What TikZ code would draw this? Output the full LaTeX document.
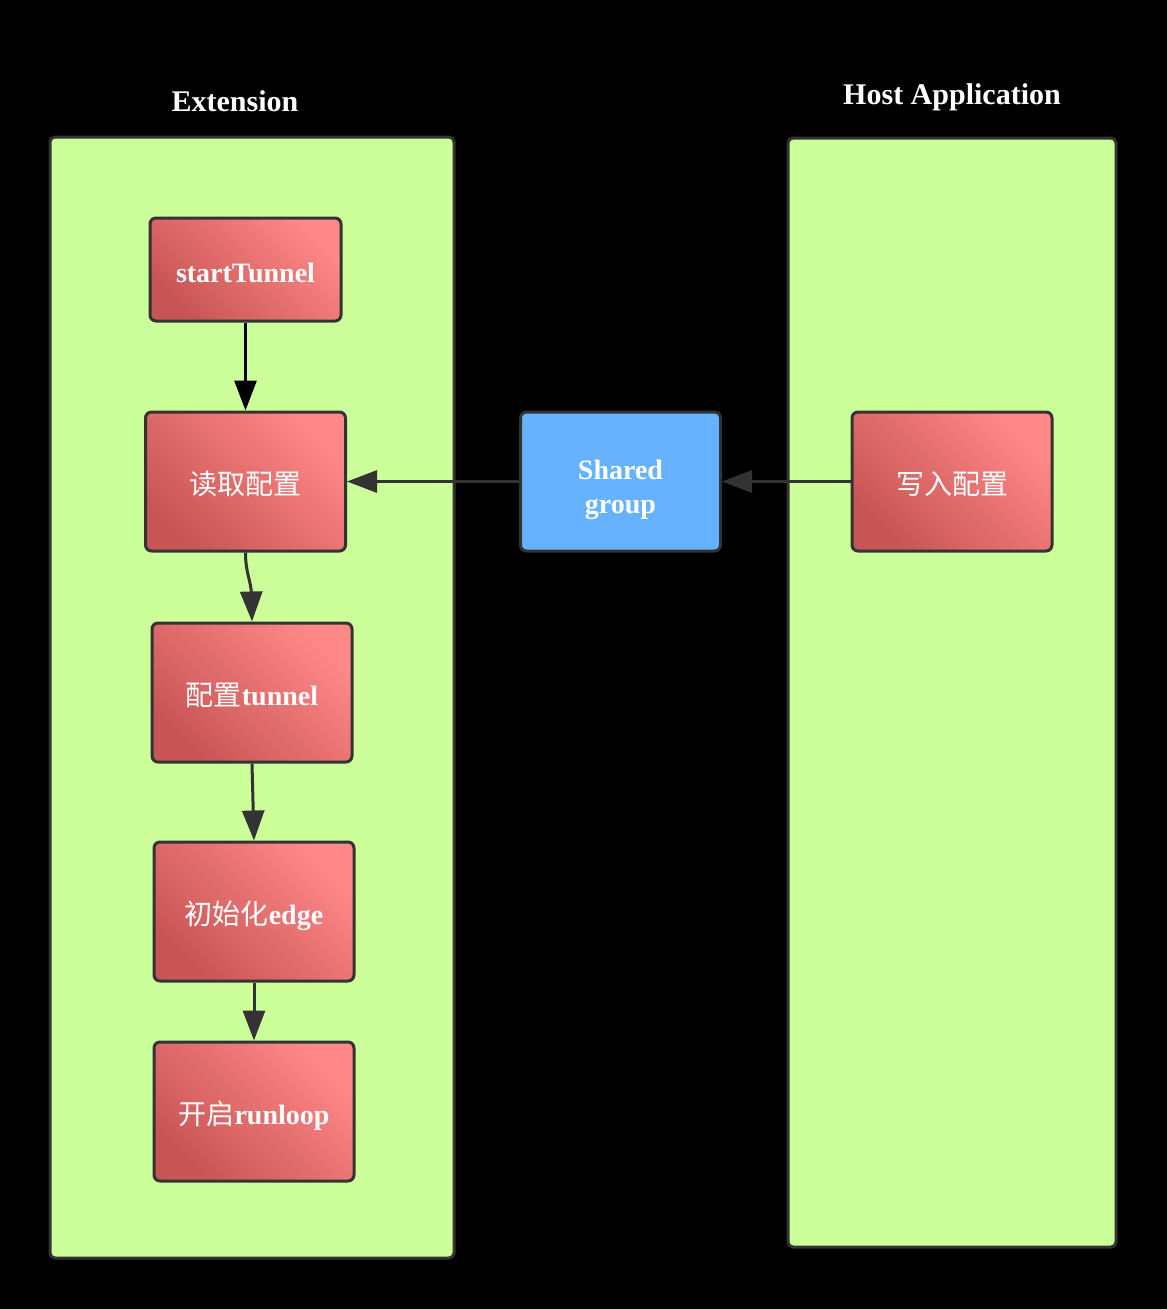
\documentclass[tikz,border=0pt]{standalone}
\usepackage{fontspec}
\setmainfont{Liberation Serif}
\newfontfamily\cjk{Noto Sans CJK SC}
\usetikzlibrary{calc}
\usetikzlibrary{arrows.meta}
\definecolor{lanegreen}{RGB}{204,255,153}
\definecolor{edgegray}{RGB}{51,51,51}
\definecolor{boxlight}{RGB}{255,136,136}
\definecolor{boxdark}{RGB}{200,85,85}
\definecolor{sharedblue}{RGB}{102,178,255}
\tikzset{
	lane/.style={draw=edgegray, line width=3pt, fill=lanegreen, rounded corners=5pt},
	lane title/.style={text=white, inner sep=0pt, anchor=base, font=\fontsize{30}{34}\selectfont\bfseries},
	box/.style={draw=edgegray, line width=3pt, rounded corners=6pt,
		minimum width=200pt, minimum height=139pt, inner sep=0pt,
		text height=27pt, text depth=1pt,
		text=white, font=\fontsize{28}{34}\selectfont\bfseries},
	task/.style={box, top color=boxlight, bottom color=boxdark, shading angle=-45},
	store/.style={box, fill=sharedblue, align=center, text height=64pt},
	flow/.style={draw=edgegray, line width=3pt, -{Triangle[length=30pt,width=22pt]}},
}

\begin{document}
\begin{tikzpicture}[x=1pt,y=-1pt]
	\useasboundingbox (0,0) rectangle (1167,1309);
	\fill[black] (0,0) rectangle (1167,1309);
	% the two lanes
	\draw[lane] (50,137) rectangle (454,1258);
	\draw[lane] (788,138) rectangle (1116,1247);
	\node[lane title] (exttitle) at (235,111) {Extension};
	\node[lane title] (hosttitle) at (952,104) {Host Application};
	% extension steps
	\node[task, minimum width=191pt, minimum height=103pt] (start) at (245.5,269.5) {startTunnel};
	\node[task] (readcfg) at (245.5,481.5) {{\cjk\mdseries 读取配置}};
	\node[task] (cfgtunnel) at (252,692.5) {{\cjk\mdseries 配置}tunnel};
	\node[task] (initedge) at (254,911.5) {{\cjk\mdseries 初始化}edge};
	\node[task] (runloop) at (254,1111.5) {{\cjk\mdseries 开启}runloop};
	% shared storage and host side
	\node[store] (shared) at (620.5,481.5) {Shared\\group};
	\node[task] (writecfg) at (952,481.5) {{\cjk\mdseries 写入配置}};
	% connectors
	\draw[flow, draw=black, fill=black] (start) -- (readcfg);
	\draw[flow] (shared) -- (readcfg);
	\draw[flow] (writecfg) -- (shared);
	\draw[flow] (readcfg.south) .. controls +(0,20) and +(-1,-40) .. (cfgtunnel.north);
	\draw[flow] (cfgtunnel.south) -- (initedge.north);
	\draw[flow] (initedge) -- (runloop);
\end{tikzpicture}
\end{document}
